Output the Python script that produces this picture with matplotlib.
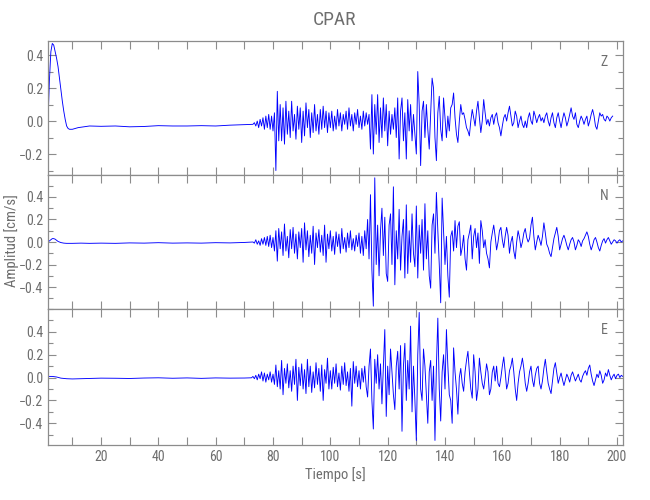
import numpy as np
import matplotlib
matplotlib.use("Agg")
import matplotlib.pyplot as plt
from matplotlib import font_manager as fm
from matplotlib.ticker import MultipleLocator, FixedLocator, FuncFormatter

# ---------------- data ----------------
station = "CPAR"
components = ["Z", "N", "E"]
x_label = "Tiempo [s]"
y_label = "Amplitud [cm/s]"
x_ticks = [20, 40, 60, 80, 100, 120, 140, 160, 180, 200]
y_ticks_z = [-0.2, 0.0, 0.2, 0.4]
y_ticks_ne = [-0.4, -0.2, 0.0, 0.2, 0.4]

dt = 0.5  # sampling of the strong-motion part [s]
row_starts = [73, 80, 90, 100, 110, 120, 130, 140, 150, 160, 170, 180, 190, 200]

# quiet part (pre-event), read as (t, v)
z_quiet_t = [1.5, 2.0, 2.5, 3.0, 3.5, 4.0, 4.5, 5.0, 5.5, 6.0, 6.5, 7.0, 7.5, 8.0, 8.5, 9.0,
             10, 11, 12, 14, 16, 20, 25, 30, 35, 40, 45, 50, 55, 60, 65, 70, 72.5]
z_quiet_v = [0.0, 0.25, 0.42, 0.47, 0.46, 0.42, 0.38, 0.33, 0.26, 0.19, 0.12, 0.06, 0.01, -0.03,
             -0.045, -0.05, -0.05, -0.045, -0.04, -0.035, -0.03, -0.032, -0.03, -0.035, -0.033,
             -0.028, -0.03, -0.03, -0.028, -0.03, -0.025, -0.022, -0.02]

n_quiet_t = [1.5, 2.0, 2.5, 3.0, 3.5, 4.0, 4.5, 5.0, 6.0, 7.0, 8, 10, 13, 16, 20, 25, 30, 35,
             40, 45, 50, 55, 60, 65, 70, 72.5]
n_quiet_v = [0.0, 0.01, 0.02, 0.03, 0.03, 0.025, 0.015, 0.005, -0.005, -0.01, -0.012, -0.012,
             -0.01, -0.012, -0.01, -0.012, -0.008, -0.01, -0.006, -0.01, -0.008, -0.01, -0.006,
             -0.008, -0.004, 0.0]

e_quiet_t = [1.5, 3, 4.5, 6, 8, 10, 13, 16, 20, 25, 30, 35, 40, 45, 50, 55, 60, 65, 70, 72.5]
e_quiet_v = [0.01, 0.01, 0.005, -0.005, -0.01, -0.012, -0.01, -0.008, -0.005, -0.006, -0.008,
             -0.004, -0.002, -0.006, -0.003, -0.007, -0.003, -0.005, -0.004, -0.002]

# strong-motion part, one row per 10 s starting at row_starts
z_rows = [
    [-0.02, -0.01, -0.03, 0.00, -0.04, 0.01, -0.03, 0.02, -0.05, 0.03, -0.04, 0.04, -0.05, 0.03],
    [-0.06, 0.05, -0.30, 0.18, -0.12, 0.10, -0.12, 0.08, -0.14, 0.12, -0.08, 0.06, -0.10, 0.12, -0.06, 0.04, -0.11, 0.09, -0.05, 0.08],
    [-0.13, 0.06, -0.09, 0.11, -0.04, 0.07, -0.10, 0.05, -0.07, 0.10, -0.06, 0.04, -0.08, 0.07, -0.05, 0.09, -0.04, 0.06, -0.07, 0.05],
    [-0.04, 0.06, -0.06, 0.03, -0.05, 0.07, -0.03, 0.05, -0.06, 0.04, -0.02, 0.06, -0.05, 0.08, -0.03, 0.04, -0.06, 0.05, -0.02, 0.07],
    [-0.04, 0.03, -0.05, 0.06, -0.03, 0.05, -0.02, 0.04, -0.17, 0.16, -0.20, 0.10, -0.08, 0.16, -0.13, 0.08, -0.10, 0.14, -0.06, 0.10],
    [-0.15, 0.06, -0.08, 0.04, -0.05, 0.08, -0.10, 0.14, -0.23, 0.06, 0.14, -0.12, 0.05, -0.23, 0.13, -0.06, 0.10, -0.12, 0.04, -0.08],
    [-0.20, 0.30, 0.10, -0.27, 0.06, 0.12, -0.10, 0.10, -0.05, -0.17, 0.05, 0.26, 0.20, -0.10, -0.24, 0.05, 0.15, -0.05, -0.12, 0.14],
    [0.02, -0.10, 0.03, -0.06, 0.08, 0.10, 0.17, 0.02, -0.08, -0.13, 0.00, 0.10, 0.04, 0.05, 0.01, -0.04, -0.06, -0.09, 0.00, 0.07],
    [0.02, -0.03, 0.06, 0.12, 0.02, -0.07, 0.00, 0.13, 0.05, -0.02, 0.01, -0.03, 0.02, 0.04, -0.02, 0.03, 0.05, -0.01, -0.04, -0.09],
    [-0.03, 0.02, 0.04, 0.00, 0.05, 0.09, 0.03, -0.03, -0.01, 0.06, 0.03, -0.04, 0.00, 0.03, -0.02, -0.04, 0.00, -0.04, 0.02, 0.05],
    [0.00, -0.02, 0.06, 0.03, -0.01, 0.02, 0.04, 0.00, 0.02, -0.01, 0.03, 0.05, 0.00, -0.03, 0.02, 0.05, -0.01, -0.04, 0.02, 0.05],
    [0.00, -0.04, 0.01, 0.05, 0.02, -0.03, 0.00, 0.04, 0.08, 0.03, 0.01, 0.05, -0.02, -0.04, 0.00, 0.03, 0.01, -0.02, 0.01, 0.03],
    [-0.03, 0.00, 0.04, 0.07, 0.03, -0.03, -0.05, 0.00, 0.05, 0.03, 0.04, 0.01, 0.00, 0.03, 0.02, 0.00, 0.02, 0.03],
]

n_rows = [
    [0.00, -0.01, 0.02, -0.02, 0.01, -0.03, 0.03, -0.02, 0.04, -0.03, 0.05, -0.04, 0.06, -0.05],
    [0.04, -0.08, 0.10, -0.17, 0.12, -0.06, 0.09, -0.12, 0.16, -0.08, 0.05, -0.14, 0.11, -0.06, 0.13, -0.10, 0.07, -0.15, 0.09, -0.05],
    [0.12, -0.18, 0.17, -0.07, 0.10, -0.13, 0.06, -0.10, 0.14, -0.20, 0.08, -0.05, 0.11, -0.09, 0.06, -0.12, 0.15, -0.18, 0.07, -0.06],
    [0.10, -0.08, 0.05, -0.11, 0.09, -0.04, 0.07, -0.10, 0.12, -0.06, 0.04, -0.09, 0.08, -0.05, 0.10, -0.07, 0.03, -0.08, 0.06, -0.04],
    [0.08, -0.10, 0.05, -0.12, 0.10, -0.06, 0.20, -0.15, 0.42, -0.25, -0.57, 0.57, -0.20, 0.15, -0.30, 0.10, 0.30, -0.12, 0.22, -0.28],
    [-0.35, 0.15, 0.25, -0.20, 0.49, -0.38, 0.10, -0.15, 0.29, -0.25, 0.05, 0.20, -0.32, 0.33, -0.28, 0.10, -0.18, 0.25, -0.10, -0.22],
    [0.32, -0.32, 0.15, -0.10, 0.20, -0.25, 0.34, -0.15, 0.10, -0.30, -0.41, 0.15, 0.25, -0.10, 0.44, 0.10, -0.20, -0.54, 0.39, 0.10],
    [-0.20, 0.05, -0.30, -0.49, 0.05, 0.10, -0.08, 0.19, -0.05, 0.14, 0.18, -0.12, -0.05, 0.06, -0.15, -0.25, 0.02, 0.08, 0.15, -0.15],
    [0.05, 0.12, -0.05, 0.08, -0.19, 0.19, 0.10, -0.05, 0.02, -0.10, -0.15, -0.23, 0.00, 0.08, 0.15, 0.05, -0.07, 0.00, 0.10, 0.13],
    [0.02, -0.05, 0.05, 0.13, 0.06, -0.10, 0.00, 0.05, -0.08, -0.15, 0.00, 0.10, 0.04, -0.05, 0.00, 0.08, 0.12, 0.04, 0.00, 0.03],
    [0.15, 0.22, 0.05, -0.07, 0.00, 0.06, 0.02, -0.03, 0.05, 0.17, 0.08, -0.02, -0.05, -0.10, -0.13, -0.05, 0.03, 0.08, 0.13, 0.05],
    [-0.07, -0.02, 0.03, 0.06, 0.02, -0.03, -0.07, -0.02, 0.02, 0.04, 0.00, -0.07, -0.03, 0.02, 0.00, -0.04, 0.01, 0.03, 0.06, 0.09],
    [0.05, -0.02, -0.07, -0.03, 0.02, 0.04, 0.00, -0.05, -0.08, -0.03, 0.01, 0.03, -0.01, 0.02, 0.04, 0.01, -0.02, 0.00, 0.02, 0.01],
    [-0.01, 0.01, 0.02, 0.00, 0.01],
]

e_rows = [
    [0.01, -0.01, 0.02, -0.02, 0.03, -0.01, 0.05, -0.03, 0.04, -0.04, 0.03, -0.02, 0.05, -0.04],
    [0.03, -0.06, 0.11, -0.08, 0.06, -0.10, 0.15, -0.15, 0.08, -0.05, 0.12, -0.09, 0.06, -0.12, 0.10, -0.06, 0.16, -0.20, 0.09, -0.07],
    [0.12, -0.10, 0.07, -0.14, 0.16, -0.08, 0.10, -0.13, 0.05, -0.09, 0.13, -0.06, 0.08, -0.12, 0.11, -0.20, 0.07, -0.05, 0.17, -0.10],
    [0.06, -0.10, 0.09, -0.05, 0.12, -0.08, 0.04, -0.11, 0.10, -0.06, 0.13, -0.07, 0.05, -0.12, 0.08, -0.25, 0.14, -0.05, 0.10, -0.08],
    [0.06, -0.10, 0.08, -0.04, 0.10, -0.08, -0.17, 0.10, 0.25, -0.20, -0.45, 0.16, -0.05, 0.20, -0.10, 0.12, -0.23, 0.10, 0.42, -0.34],
    [0.10, -0.15, 0.25, 0.05, -0.15, -0.28, 0.10, 0.23, -0.10, 0.28, -0.47, 0.10, 0.30, -0.20, 0.15, -0.10, 0.45, -0.30, 0.10, -0.20],
    [-0.55, 0.20, 0.57, -0.10, -0.20, 0.25, 0.10, -0.15, -0.40, 0.05, 0.15, -0.20, 0.10, -0.55, 0.10, 0.52, -0.10, -0.38, 0.05, 0.20],
    [-0.10, 0.42, 0.10, -0.15, -0.20, -0.40, 0.26, 0.05, -0.10, -0.32, 0.00, 0.08, -0.05, -0.12, 0.05, 0.15, 0.23, 0.05, -0.10, -0.18],
    [0.20, 0.05, -0.20, -0.10, 0.17, 0.05, -0.05, -0.10, 0.00, 0.12, 0.05, -0.15, -0.10, 0.05, 0.10, -0.03, 0.10, -0.05, -0.08, 0.00],
    [0.10, 0.18, 0.05, -0.10, -0.05, 0.06, 0.10, 0.17, 0.05, -0.10, -0.20, -0.05, 0.05, 0.10, 0.17, 0.08, -0.05, -0.12, -0.05, 0.05],
    [0.10, -0.02, -0.08, 0.02, 0.08, 0.10, -0.05, -0.10, -0.03, 0.08, 0.16, 0.05, -0.05, -0.10, -0.14, -0.03, 0.08, 0.13, 0.04, -0.05],
    [0.00, 0.04, -0.02, -0.07, -0.02, 0.03, 0.00, -0.04, 0.02, 0.05, 0.01, -0.03, 0.00, 0.03, -0.02, -0.04, 0.01, 0.04, 0.06, 0.02],
    [0.08, 0.11, 0.03, -0.03, -0.07, -0.02, 0.03, 0.00, 0.06, 0.02, -0.05, -0.02, 0.04, 0.01, 0.07, 0.02, -0.02, 0.01, 0.03, -0.01],
    [0.02, 0.03, 0.00, 0.02, 0.01],
]

# ---------------- style ----------------
ttf = fm.fontManager.ttflist
names = {f.name for f in ttf}
narrow = [n for n in ["Liberation Sans Narrow", "Roboto Condensed", "Open Sans Condensed"] if n in names]
if narrow:
    plt.rcParams["font.family"] = [narrow[0], "DejaVu Sans"]
else:
    plt.rcParams["font.family"] = ["DejaVu Sans"]
    if any(f.name == "DejaVu Sans" and f.stretch == "condensed" for f in ttf):
        plt.rcParams["font.stretch"] = "condensed"
plt.rcParams["axes.unicode_minus"] = True

TXT = "#6e6e6e"
AX = "#8c8c8c"
LINE = "#0000ff"


def build(qt, qv, rows):
    t = list(qt)
    v = list(qv)
    for t0, row in zip(row_starts, rows):
        t.extend(t0 + dt * np.arange(len(row)))
        v.extend(row)
    return np.array(t, dtype=float), np.array(v, dtype=float)


series = [build(z_quiet_t, z_quiet_v, z_rows),
          build(n_quiet_t, n_quiet_v, n_rows),
          build(e_quiet_t, e_quiet_v, e_rows)]
ylims = [(-0.327, 0.485), (-0.595, 0.595), (-0.59, 0.60)]
yticks = [y_ticks_z, y_ticks_ne, y_ticks_ne]


def fmt(v, pos):
    s = "%.1f" % v
    if s == "-0.0":
        s = "0.0"
    return s.replace("-", "\u2212")


fig = plt.figure(figsize=(6.5, 5.0), dpi=100)
left, width = 48 / 650, 575 / 650
rects = [(left, 325 / 500, width, 134 / 500),
         (left, 191 / 500, width, 134 / 500),
         (left, 55 / 500, width, 136 / 500)]

axes = []
for i, (rect, (t, v), comp, yl, yt) in enumerate(zip(rects, series, components, ylims, yticks)):
    ax = fig.add_axes(rect)
    ax.plot(t, v, color=LINE, lw=0.65)
    ax.set_xlim(1.5, 202.1)
    ax.set_ylim(*yl)
    ax.xaxis.set_major_locator(MultipleLocator(20))
    ax.xaxis.set_minor_locator(MultipleLocator(10))
    ax.yaxis.set_major_locator(FixedLocator(yt))
    ax.yaxis.set_minor_locator(MultipleLocator(0.1))
    ax.yaxis.set_major_formatter(FuncFormatter(fmt))
    ax.tick_params(axis="x", which="both", direction="in", top=True, bottom=True,
                   length=6, width=0.8, color=AX, labelcolor=TXT, labelsize=10, pad=3.5)
    ax.tick_params(axis="y", which="major", direction="in", left=True, right=True,
                   length=6, width=0.8, color=AX, labelcolor=TXT, labelsize=10, pad=3.5)
    ax.tick_params(axis="y", which="minor", direction="in", left=True, right=True,
                   length=3.5, width=0.8, color=AX)
    if i < 2:
        ax.tick_params(axis="x", labelbottom=False)
    for sp in ax.spines.values():
        sp.set_color(AX)
        sp.set_linewidth(0.9)
    ax.text(0.967, 0.845, comp, transform=ax.transAxes, ha="center", va="center",
            color=TXT, fontsize=10)
    axes.append(ax)

axes[2].set_xticks(x_ticks)
axes[2].set_xlabel(x_label, color=TXT, fontsize=10.5, labelpad=2)
fig.text(335 / 650, 1 - 20 / 500, station, ha="center", va="center", color=TXT, fontsize=14)
fig.text(12 / 650, 1 - 241 / 500, y_label, rotation=90, ha="center", va="center",
         color=TXT, fontsize=10.5)

fig.savefig("out.png", dpi=100, facecolor="white")
